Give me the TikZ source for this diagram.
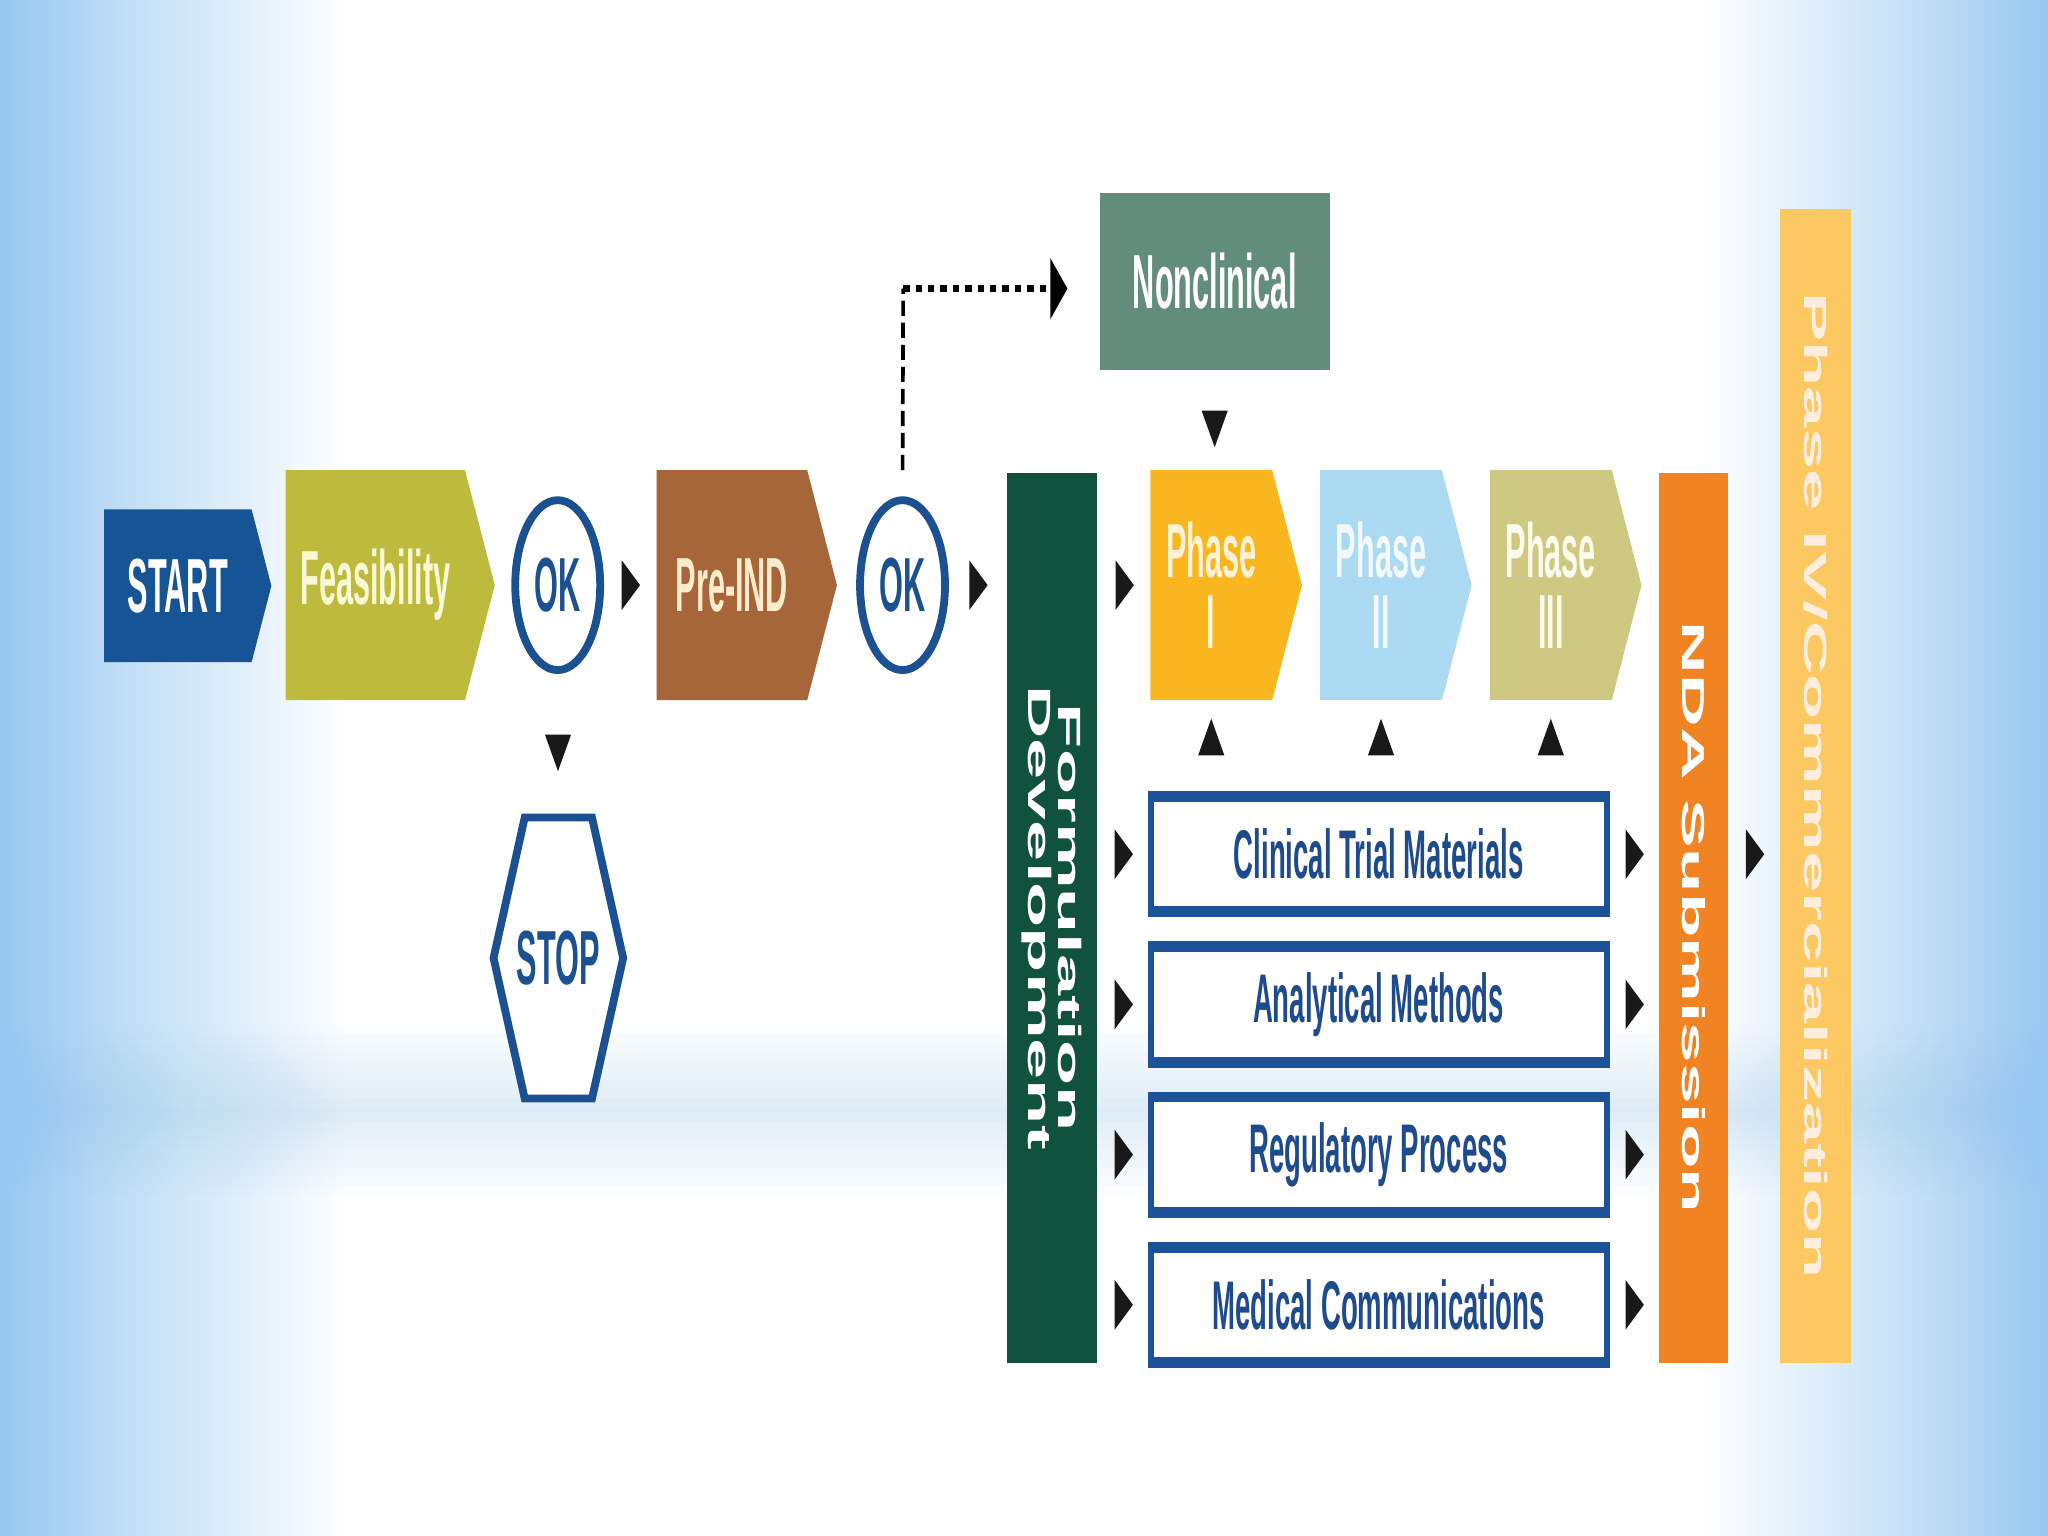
\documentclass[tikz,border=0pt]{standalone}
\usepackage{fontspec}
\setmainfont{Liberation Sans}
\newfontfamily\narrowfont[FakeStretch=0.4]{Liberation Sans}
\newfontfamily\widefont[FakeStretch=2.3]{Liberation Sans}
\usetikzlibrary{shapes.geometric, shapes.symbols, arrows.meta}

\definecolor{bgblue}{RGB}{150,200,240}
\definecolor{startblue}{RGB}{22,84,150}
\definecolor{feasolive}{RGB}{190,186,62}
\definecolor{preindbrown}{RGB}{167,101,58}
\definecolor{okblue}{RGB}{27,80,145}
\definecolor{nonclgreen}{RGB}{98,141,122}
\definecolor{formgreen}{RGB}{16,82,62}
\definecolor{phaseone}{RGB}{250,182,30}
\definecolor{phasetwo}{RGB}{172,218,242}
\definecolor{phasethree}{RGB}{207,200,130}
\definecolor{ndaorange}{RGB}{242,131,34}
\definecolor{phasefour}{RGB}{251,200,98}
\definecolor{boxblue}{RGB}{28,82,152}
\definecolor{textblue}{RGB}{30,75,140}

\pgfdeclarehorizontalshading{bgshade}{100bp}{color(0bp)=(bgblue); color(25bp)=(bgblue); color(28bp)=(bgblue!60); color(33.5bp)=(white); color(66.5bp)=(white); color(72bp)=(bgblue!60); color(75bp)=(bgblue); color(100bp)=(bgblue)}

\begin{document}
\begin{tikzpicture}[x=0.01cm, y=-0.01cm]

      \tikzset{chev/.style={signal, signal to=east, signal pointer angle=151, inner sep=0pt, minimum height=1.76cm, anchor=west, align=center, font=\narrowfont\bfseries\fontsize{16.7}{15.6}\selectfont},
               okc/.style={ellipse, draw=okblue, line width=1.7pt, fill=white, inner sep=0pt, minimum width=0.65cm, minimum height=1.30cm, text=okblue, font=\narrowfont\bfseries\fontsize{16.7}{16.7}\selectfont},
               bar/.style={rotate=-90, inner sep=0pt, align=center, text=white},
               task/.style={draw=boxblue, line width=1.3pt, fill=white, inner sep=0pt, minimum width=3.49cm, minimum height=0.92cm, text=textblue, font=\narrowfont\bfseries\fontsize{15}{15}\selectfont,
                   path picture={\fill[boxblue] (path picture bounding box.north west) rectangle ([yshift=-0.06cm]path picture bounding box.north east);
                                 \fill[boxblue] (path picture bounding box.south west) rectangle ([yshift=0.06cm]path picture bounding box.south east);}},
               rarr/.style={isosceles triangle, isosceles triangle stretches, fill=black!90, inner sep=0pt, minimum width=0.38cm, minimum height=0.14cm},
               darr/.style={rarr, rotate=-90, minimum width=0.20cm, minimum height=0.28cm},
               uarr/.style={rarr, rotate=90, minimum width=0.20cm, minimum height=0.28cm}}

%% Background
      \useasboundingbox (0,0) rectangle (1568,1176);
      \shade[shading=bgshade] (0,0) rectangle (1568,1176);
      \foreach \i in {0,...,9}
        \fill[bgblue, opacity=0.03] (0,785+\i*7) rectangle (1568,915-\i*7);

%% Vertices
      \node[chev, fill=startblue, text=white, minimum width=1.28cm, minimum height=1.17cm] (v1) at (79,448.5) {START};
      \node[chev, fill=feasolive, text={rgb,255:red,250;green,248;blue,212}, minimum width=1.60cm] (v2) at (218,448) {Feasibility};
      \node[okc] (v3) at (427,448) {OK};
      \node[signal, signal to=east and west, signal pointer angle=155, draw=okblue, line width=1.7pt, fill=white, inner ysep=0pt, inner xsep=-0.06cm, minimum height=2.15cm, text=okblue, font=\narrowfont\bfseries\fontsize{16.7}{16.7}\selectfont] (v4) at (427.5,733.5) {STOP};
      \node[chev, fill=preindbrown, text={rgb,255:red,255;green,236;blue,205}, minimum width=1.38cm] (v5) at (502,448) {Pre-IND};
      \node[okc] (v6) at (691,448) {OK};
      \node[fill=nonclgreen, text=white, inner sep=0pt, minimum width=1.76cm, minimum height=1.35cm, font=\narrowfont\bfseries\fontsize{16.7}{16.7}\selectfont] (v7) at (930,215.5) {Nonclinical};
      \node[bar, fill=formgreen, minimum width=6.81cm, minimum height=0.69cm, font=\widefont\bfseries\fontsize{7}{6.6}\selectfont] (v8) at (805.5,702.5) {Formulation\\Development};
      \node[chev, fill=phaseone, text={rgb,255:red,255;green,242;blue,215}, minimum width=1.16cm] (v9) at (880,448) {Phase\\I};
      \node[chev, fill=phasetwo, text={rgb,255:red,242;green,249;blue,255}, minimum width=1.16cm] (v10) at (1010,448) {Phase\\II};
      \node[chev, fill=phasethree, text={rgb,255:red,252;green,251;blue,236}, minimum width=1.16cm] (v11) at (1140,448) {Phase\\III};
      \node[task] (v12) at (1055.5,654) {Clinical Trial Materials};
      \node[task] (v13) at (1055.5,769) {Analytical Methods};
      \node[task] (v14) at (1055.5,884) {Regulatory Process};
      \node[task] (v15) at (1055.5,999) {Medical Communications};
      \node[bar, fill=ndaorange, minimum width=6.81cm, minimum height=0.53cm, font=\widefont\bfseries\fontsize{6.9}{6.9}\selectfont] (v16) at (1296.5,702.5) {NDA Submission};
      \node[bar, fill=phasefour, text={rgb,255:red,255;green,238;blue,222}, minimum width=8.83cm, minimum height=0.54cm, font=\widefont\bfseries\fontsize{7}{7}\selectfont] (v17) at (1390,601.5) {Phase IV/Commercialization};
      \coordinate (c1) at (691.5,221);

%Edges
      \path (v3) -- node[rarr] {} (v5);
      \path (v3) -- node[darr] {} (v4);
      \path (v6) -- node[rarr] {} (v8.south |- v6);
      \path (v8.north |- v9) -- node[rarr] {} (v9);
      \path (v7.south) -- node[darr] {} (v7.south |- v9.north);
      \foreach \p in {v9,v10,v11}
        \path (v12.north -| \p) -- node[uarr] {} (\p.south);
      \foreach \b in {v12,v13,v14,v15}{
        \path (v8.north |- \b) -- node[rarr] {} (\b.west);
        \path (\b.east) -- node[rarr] {} (v16.south |- \b);
      }
      \path (v16.north |- v12) -- node[rarr] {} (v17.south |- v12);
      \draw[line width=0.8pt, dash pattern=on 3.3pt off 1.5pt, shorten <=0.2cm] (v6.north) -- (c1);
      \draw[line width=1.4pt, dash pattern=on 1.4pt off 1.3pt, -{Triangle[length=0.13cm, width=0.46cm]}, shorten >=0.24cm] (c1) -- (c1 -| v7.west);
\end{tikzpicture}
\end{document}
